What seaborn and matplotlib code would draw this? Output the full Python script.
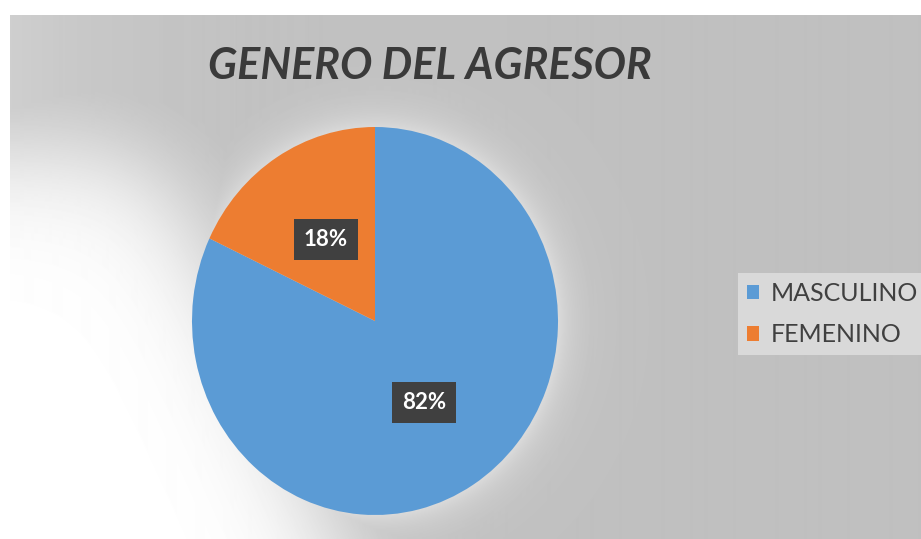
import numpy as np
import matplotlib.pyplot as plt
from matplotlib.patches import Patch
import seaborn as sns

# data
labels = ['MASCULINO', 'FEMENINO']
shares = [82, 18]
colors = ['#5b9bd5', '#ed7d31']
title = 'GENERO DEL AGRESOR'

sns.set_theme(style='white')
plt.rcParams['font.family'] = ['Lato', 'DejaVu Sans']

W, H = 921, 539
fig = plt.figure(figsize=(W / 100, H / 100), dpi=100)
fig.patch.set_facecolor('white')

# gray background, white light from the lower left plus a soft glow round the pie
bg = fig.add_axes([10 / W, 0, 1 - 10 / W, 1 - 15 / H])
xx, yy = np.meshgrid(np.arange(10, W), np.arange(15, H))
x_edge = 95 + 0.45 * (yy - 15)
w_left = 1 / (1 + np.exp(-(x_edge - xx) / 35)) * 1 / (1 + np.exp(-(yy - 150) / 35))
w_left = np.maximum(w_left, 0.25 * np.exp(-xx / 120))
r = np.hypot((xx - 375) / 183, (yy - 321) / 194)
w_glow = 0.4 * np.exp(-np.clip(r - 1, 0, None) * 190 / 20)
w = np.maximum(w_left, w_glow)
g = 0.753 + (1 - 0.753) * w
bg.imshow(g, cmap='gray', vmin=0, vmax=1, aspect='auto', interpolation='bilinear')
bg.axis('off')

# pie
ax = fig.add_axes([192 / W, 1 - 515 / H, 366 / W, 388 / H])
wedges, texts, autotexts = ax.pie(shares, colors=colors, startangle=90, counterclock=False,
                                  autopct='%1.0f%%', pctdistance=0.5,
                                  wedgeprops=dict(linewidth=0))
for t in autotexts:
    t.set_color('white')
    t.set_fontweight('bold')
    t.set_fontsize(16)
    t.set_bbox(dict(boxstyle='square,pad=0.45', fc='#404040', ec='none'))
ax.set_aspect('auto')
ax.set_xlim(-1, 1)
ax.set_ylim(-1, 1)
ax.axis('off')

fig.text(430 / W, 1 - 66 / H, title, ha='center', va='center', fontsize=31,
         fontweight='bold', fontstyle='italic', color='#3a3a3a')

handles = [Patch(facecolor=c, edgecolor='none') for c in colors]
leg = fig.legend(handles, labels, loc='center left', bbox_to_anchor=(738 / W, 1 - 314 / H),
                 frameon=True, facecolor='#d9d9d9', edgecolor='none', framealpha=1,
                 fancybox=False, fontsize=18, handlelength=0.5, handleheight=0.5,
                 labelspacing=0.75, borderpad=0.35, handletextpad=0.45, borderaxespad=0)
for t in leg.get_texts():
    t.set_color('#404040')

fig.savefig('out.png', dpi=100)
